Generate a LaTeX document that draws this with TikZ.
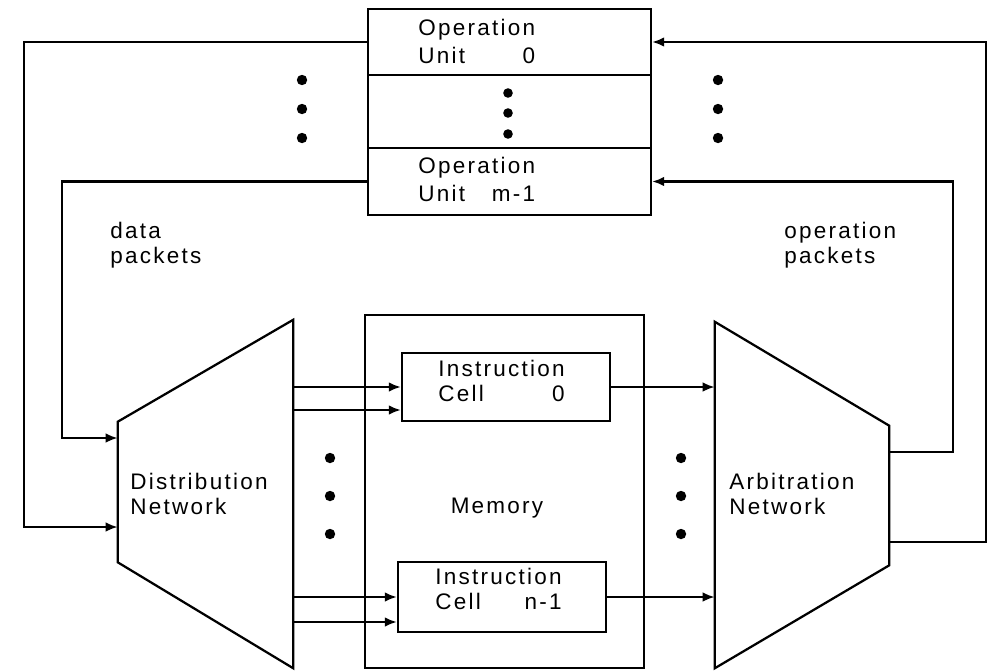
\documentclass[tikz,border=0pt]{standalone}
\usepackage{fontspec}
\setmainfont{Liberation Sans}[LetterSpace=10]
\usetikzlibrary{arrows.meta, calc, fit}
\newcommand\twoln[3]{\begin{tabular}{@{}l@{}}#1\\#2\hfill#3\end{tabular}}

\begin{document}
\begin{tikzpicture}[x=0.025cm, y=-0.025cm, >={Latex[length=3mm,width=2.4mm]},
    blk/.style={draw, line width=1.6pt, inner sep=0pt},
    zone/.style={inner sep=0pt},
    lbl/.style={font=\fontsize{16}{18}\selectfont, align=left, inner sep=0pt},
    con/.style={->, line width=1.6pt}]
    \useasboundingbox (0,0) rectangle (997,671);

    \node[blk, fit={(368,9) (651,75)}] (ou0) {};
    \node[blk, fit={(368,75) (651,148)}] (oudots) {};
    \node[blk, fit={(368,148) (651,215)}] (oum) {};
    \node[lbl, font=\fontsize{16}{20}\selectfont, anchor=west] (ou0t) at (418,44) {\twoln{Operation}{Unit}{0}};
    \node[lbl, font=\fontsize{16}{20}\selectfont, anchor=west] (oumt) at (418,182) {\twoln{Operation}{Unit}{m-1}};

    \node[blk, fit={(365,315) (644,668)}] (mem) {};
    \node[lbl] (memt) at (497,508) {Memory};
    \node[blk, fit={(402,353) (610,421)}] (c0) {};
    \node[blk, fit={(398,562) (606,632)}] (cn) {};
    \node[lbl, anchor=west] (c0t) at (438,384) {\twoln{Instruction}{Cell}{0}};
    \node[lbl, anchor=west] (cnt) at (435,592) {\twoln{Instruction}{Cell}{n-1}};

    \node[zone, fit={(118,320) (293,668)}] (dist) {};
    \draw[line width=1.6pt] (dist.north east) -- (dist.south east)
        -- ($(dist.south west)+(0,-106)$) -- ($(dist.north west)+(0,102)$) -- cycle;
    \node[lbl, anchor=west] (distt) at (130,494) {Distribution\\Network};

    \node[zone, fit={(715,322) (889,668)}] (arb) {};
    \draw[line width=1.6pt] (arb.north west) -- (arb.south west)
        -- ($(arb.south east)+(0,-103)$) -- ($(arb.north east)+(0,104)$) -- cycle;
    \node[lbl, anchor=west] (arbt) at (729,494) {Arbitration\\Network};

    \node[lbl, anchor=west] (datat) at (110,245) {data\\packets};
    \node[lbl, anchor=west] (opt) at (784,245) {operation\\packets};

    \coordinate (dnA) at ($(dist.west)+(0,-56)$);
    \coordinate (dnB) at ($(dist.west)+(0,33)$);
    \coordinate (anA) at ($(arb.east)+(0,-43)$);
    \coordinate (anB) at ($(arb.east)+(0,47)$);
    \coordinate (c0b) at ($(c0.west)+(0,23)$);
    \coordinate (cnb) at ($(cn.west)+(0,25)$);

    \draw[con] (ou0.west) -- ($(ou0.west)+(-343,0)$) |- (dnB);
    \draw[con] (oum.west) -- ($(oum.west)+(-305,0)$) |- (dnA);
    \draw[con] (anA) -| ($(oum.east)+(301,0)$) -- (oum.east);
    \draw[con] (anB) -| ($(ou0.east)+(334,0)$) -- (ou0.east);

    \draw[con] (dist.east |- c0.west) -- (c0.west);
    \draw[con] (dist.east |- c0b) -- (c0b);
    \draw[con] (dist.east |- cn.west) -- (cn.west);
    \draw[con] (dist.east |- cnb) -- (cnb);
    \draw[con] (c0.east) -- (arb.west |- c0.east);
    \draw[con] (cn.east) -- (arb.west |- cn.east);

    \foreach \y in {80,109,138} {
        \fill (302,\y) circle (0.13cm);
        \fill (718,\y) circle (0.13cm);
    }
    \foreach \y in {93,113,134}
        \fill (508,\y) circle (0.12cm);
    \foreach \y in {458,496,534} {
        \fill (330,\y) circle (0.13cm);
        \fill (681,\y) circle (0.13cm);
    }
\end{tikzpicture}
\end{document}
